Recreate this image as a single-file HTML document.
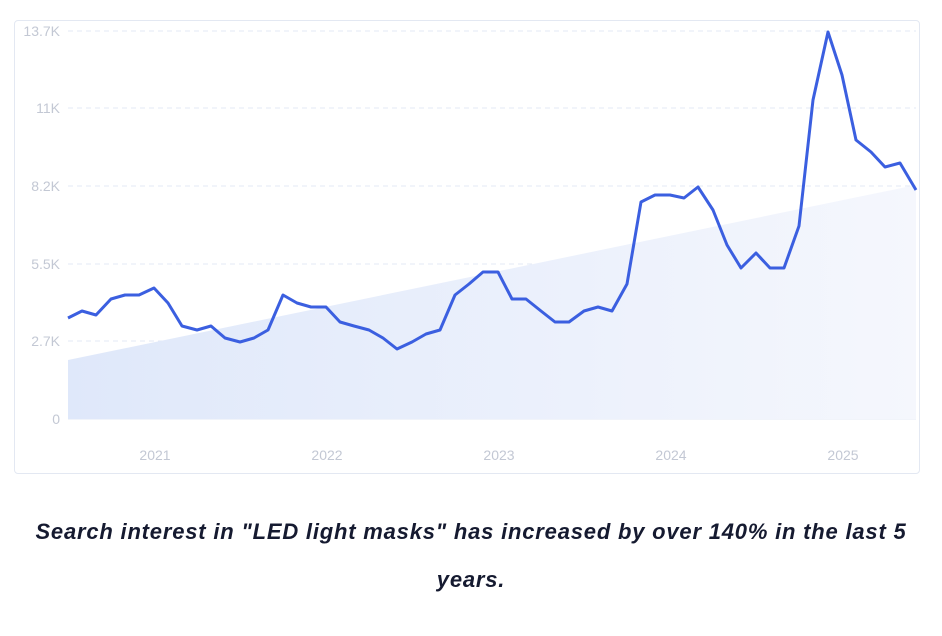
<!DOCTYPE html>
<html><head><meta charset="utf-8"><style>
body{margin:0;background:#fff;width:942px;height:636px;overflow:hidden;font-family:"Liberation Sans",sans-serif}
.box{position:absolute;left:14px;top:20px;width:904px;height:452px;border:1px solid #e3e8f2;border-radius:4px}
.cap{position:absolute;left:0;top:508px;width:942px;text-align:center;font-weight:bold;font-style:italic;font-size:22px;letter-spacing:0.8px;line-height:48px;color:#151a30}
</style></head><body>
<div class="box"></div>
<svg width="942" height="500" style="position:absolute;left:0;top:0">
<defs><linearGradient id="g" x1="0" y1="0" x2="1" y2="0"><stop offset="0" stop-color="#dfe8fa"/><stop offset="1" stop-color="#f5f7fd"/></linearGradient></defs>
<g stroke="#e3e9f5" stroke-dasharray="5,4" stroke-width="1">
<line x1="68" x2="916" y1="31" y2="31"/><line x1="68" x2="916" y1="108" y2="108"/><line x1="68" x2="916" y1="186" y2="186"/><line x1="68" x2="916" y1="264" y2="264"/><line x1="68" x2="916" y1="341" y2="341"/>
</g>
<line x1="68" x2="916" y1="419" y2="419" stroke="#e3e9f5"/>
<polygon points="68,360 916,185 916,419 68,419" fill="url(#g)"/>
<g font-size="14" fill="#c3c8d4" text-anchor="end">
<text x="60" y="36">13.7K</text><text x="60" y="113">11K</text><text x="60" y="191">8.2K</text><text x="60" y="269">5.5K</text><text x="60" y="346">2.7K</text><text x="60" y="424">0</text>
</g>
<g font-size="14" fill="#c3c8d4" text-anchor="middle">
<text x="155" y="460">2021</text><text x="327" y="460">2022</text><text x="499" y="460">2023</text><text x="671" y="460">2024</text><text x="843" y="460">2025</text>
</g>
<polyline fill="none" stroke="#3b5fe0" stroke-width="3" stroke-linejoin="round" points="68,318 82,311 96,315 111,299 125,295 139,295 154,288 168,303 182,326 197,330 211,326 225,338 240,342 254,338 268,330 283,295 297,303 311,307 326,307 340,322 354,326 369,330 383,338 397,349 412,342 426,334 440,330 455,295 469,284 483,272 498,272 512,299 526,299 541,311 555,322 569,322 584,311 598,307 612,311 627,284 641,202 655,195 670,195 684,198 698,187 713,210 727,245 741,268 756,253 770,268 784,268 799,226 813,100 828,32 842,75 856,140 871,152 885,167 900,163 916,190"/>
</svg>
<div class="cap">Search interest in "LED light masks" has increased by over 140% in the last 5<br>years.</div>
</body></html>
